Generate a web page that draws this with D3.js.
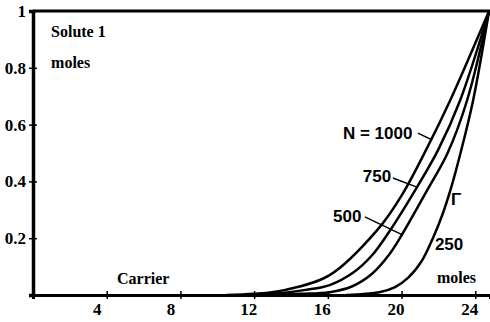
<!DOCTYPE html>
<html>
<head>
<meta charset="utf-8">
<script src="https://cdn.jsdelivr.net/npm/d3@7"></script>
<style>
  body { margin: 0; background: #fff; }
  svg { display: block; }
  .tick text { font-family: "Liberation Serif", "DejaVu Serif", serif; font-weight: bold; font-size: 17px; fill: #000; }
  .serif { font-family: "Liberation Serif", serif; font-weight: bold; font-size: 16px; }
  .sans { font-family: "Liberation Sans", Arial, sans-serif; font-weight: bold; font-size: 17px; }
</style>
</head>
<body>
<div id="chart"></div>
<script>
// curve values: [carrier moles, solute 1 moles]
var n1000 = [[10.5,0],[12,0.004],[13.7,0.018],[16.1,0.07],[18.7,0.23],[20.0,0.35],[21.4,0.52],[22.63,0.684],[24.75,1]];
var n750  = [[11.5,0],[13,0.004],[14.8,0.018],[16.1,0.035],[17.4,0.08],[18.4,0.14],[19.3,0.22],[20.84,0.38],[21.98,0.51],[23.17,0.684],[24.75,1]];
var n500  = [[12.5,0],[14.5,0.004],[16.1,0.01],[17.3,0.03],[18.4,0.075],[19.3,0.14],[20.0,0.21],[21.4,0.37],[22.5,0.5],[23.55,0.684],[24.75,1]];
var n250  = [[17,0],[18.8,0.01],[19.65,0.028],[20.35,0.06],[21.1,0.12],[21.7,0.2],[22.2,0.28],[22.7,0.38],[23.2,0.5],[23.88,0.684],[24.75,1]];
var series = [n1000, n750, n500, n250];

var xTicks = [4, 8, 12, 16, 20, 24];
var yTicks = [0.2, 0.4, 0.6, 0.8, 1];

// curve labels (text, x, y in data units) and their leader lines
var labels = [["N = 1000", 16.82, 0.549], ["750", 17.9, 0.398], ["500", 16.28, 0.257], ["250", 21.81, 0.158], ["\u0393", 22.68, 0.317]];
var leaders = [[[20.89,0.570],[21.65,0.546]], [[19.53,0.412],[20.84,0.380]], [[18.01,0.275],[20.08,0.211]]];

var width = 490, height = 322;

var svg = d3.select("#chart").append("svg")
  .attr("width", width)
  .attr("height", height);

var x = d3.scaleLinear().domain([0, 24.8]).range([33, 490]);
var y = d3.scaleLinear().domain([0, 1]).range([295, 11]);

// top frame line
svg.append("line")
  .attr("x1", x(0)).attr("x2", x(24.8))
  .attr("y1", y(1)).attr("y2", y(1))
  .attr("stroke", "#000").attr("stroke-width", 3);

var line = d3.line()
  .x(function(d){ return x(d[0]); })
  .y(function(d){ return y(d[1]); })
  .curve(d3.curveCatmullRom);

for (var s of series) {
  svg.append("path")
    .attr("d", line(s))
    .attr("fill", "none")
    .attr("stroke", "#000")
    .attr("stroke-width", 2.5);
}

var xAxis = svg.append("g")
  .attr("transform", "translate(0," + y(0) + ")")
  .call(d3.axisBottom(x).tickValues(xTicks).tickSizeOuter(0).tickSize(4).tickPadding(4));
xAxis.select(".domain").attr("stroke-width", 3);
xAxis.selectAll(".tick line").attr("y1", -4).attr("y2", 4).attr("stroke-width", 1.5);
xAxis.selectAll(".tick text").attr("x", function(d){ return d < 10 ? -10 : -6; });

var yAxis = svg.append("g")
  .attr("transform", "translate(" + x(0) + ",0)")
  .call(d3.axisLeft(y).tickValues(yTicks).tickSizeOuter(0).tickSize(4).tickPadding(3)
    .tickFormat(function(d){ return d === 1 ? "1" : d3.format(".1f")(d); }));
yAxis.select(".domain").attr("stroke-width", 3.5);
yAxis.selectAll(".tick line").attr("x1", -4).attr("x2", 4).attr("stroke-width", 1.5);

// labels
for (var l of labels) {
  svg.append("text").attr("class", "sans")
    .attr("x", x(l[1])).attr("y", y(l[2]))
    .text(l[0]);
}
for (var ld of leaders) {
  svg.append("line")
    .attr("x1", x(ld[0][0])).attr("y1", y(ld[0][1]))
    .attr("x2", x(ld[1][0])).attr("y2", y(ld[1][1]))
    .attr("stroke", "#000").attr("stroke-width", 1.5);
}

svg.append("text").attr("class", "serif").attr("x", x(0.98)).attr("y", y(0.908)).text("Solute 1");
svg.append("text").attr("class", "serif").attr("x", x(0.98)).attr("y", y(0.799)).text("moles");
svg.append("text").attr("class", "serif").attr("x", x(4.56)).attr("y", y(0.039)).text("Carrier");
svg.append("text").attr("class", "serif").attr("x", x(21.92)).attr("y", y(0.042)).text("moles");
</script>
</body>
</html>
